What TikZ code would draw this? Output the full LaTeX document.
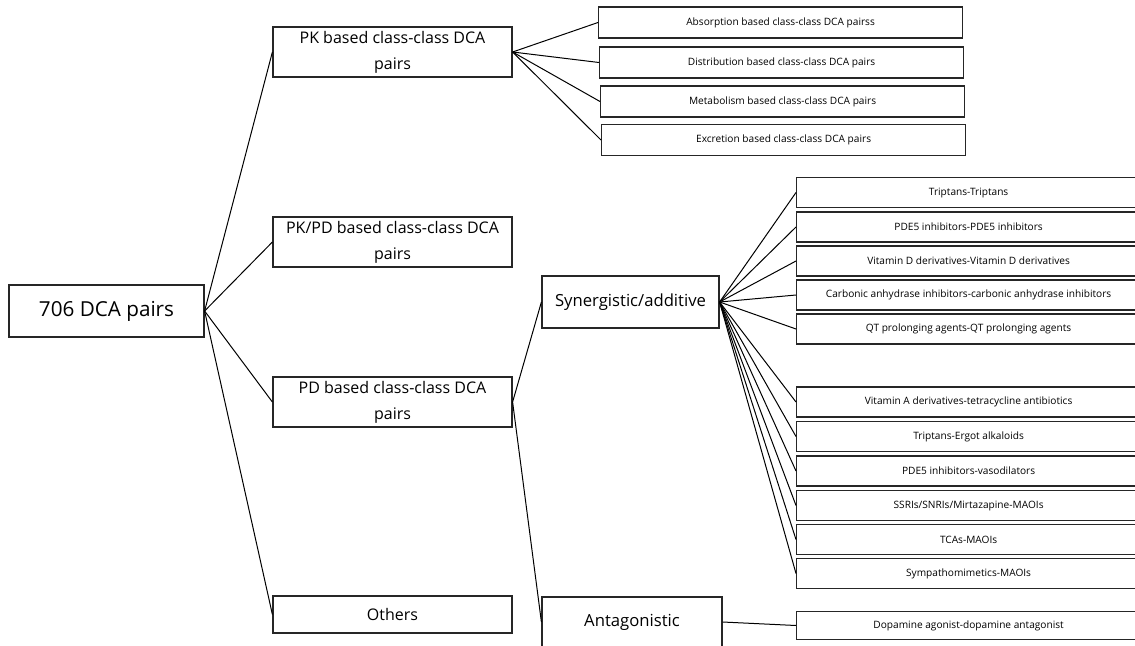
\documentclass[tikz,border=0pt]{standalone}
\usepackage{fontspec}
\setmainfont{Open Sans}
\usepackage{tikz}
\usetikzlibrary{positioning}
\tikzset{
  rootbox/.style={
    draw=black!85,
    line width=0.9pt,
    align=center,
    font=\fontsize{15.5}{18}\selectfont,
    minimum width=146.25pt,
    minimum height=39pt,
    inner sep=2pt
  },
  catbox/.style={
    draw=black!85,
    line width=0.9pt,
    align=center,
    font=\fontsize{12}{19.5}\selectfont,
    minimum width=179.25pt,
    minimum height=37.5pt,
    inner sep=2pt
  },
  effbox/.style={
    draw=black!85,
    line width=0.9pt,
    align=center,
    font=\fontsize{12.5}{15}\selectfont,
    minimum width=132.75pt,
    minimum height=39pt,
    inner sep=2pt
  },
  subbox/.style={
    draw=black!85,
    line width=0.9pt,
    anchor=west,
    font=\fontsize{7.6}{9}\selectfont,
    minimum width=273pt,
    minimum height=23.25pt,
    inner sep=2pt
  },
  pairbox/.style={
    draw=black!85,
    line width=0.9pt,
    anchor=west,
    font=\fontsize{7.6}{9}\selectfont,
    minimum width=258pt,
    minimum height=22.5pt,
    inner sep=2pt
  },
  line/.style={draw=black, line width=0.75pt}
}

\begin{document}
\begin{tikzpicture}[x=0.75pt, y=-0.75pt]
\clip (0,0) rectangle (1135,646);

\node[rootbox] (root) at (106.5,311) {706 DCA pairs};

\node[catbox] (pk) at (392.5,52) {PK based class-class DCA\\pairs};
\node[catbox] (pkpd) at (392.5,242) {PK/PD based class-class DCA\\pairs};
\node[catbox] (pd) at (392.5,402) {PD based class-class DCA\\pairs};
\node[catbox, minimum height=27.75pt] (others) at (392.5,614.5) {Others};

\node[subbox] (absorp) at (598,22.5) {Absorption based class-class DCA pairss};
\node[subbox] (distrib) at (599,62.5) {Distribution based class-class DCA pairs};
\node[subbox] (metab) at (600,101.5) {Metabolism based class-class DCA pairs};
\node[subbox] (excret) at (601,140) {Excretion based class-class DCA pairs};

\node[effbox] (syn) at (630.5,302) {Synergistic/additive};
\node[effbox, minimum width=135pt, minimum height=37.5pt] (ant) at (632,622) {Antagonistic};

\node[pairbox] (trip) at (796,192.5) {Triptans-Triptans};
\node[pairbox] (pde) at (796,227) {PDE5 inhibitors-PDE5 inhibitors};
\node[pairbox] (vitd) at (796,261) {Vitamin D derivatives-Vitamin D derivatives};
\node[pairbox] (carb) at (796,295) {Carbonic anhydrase inhibitors-carbonic anhydrase inhibitors};
\node[pairbox] (qt) at (796,329) {QT prolonging agents-QT prolonging agents};
\node[pairbox] (vita) at (796,402) {Vitamin A derivatives-tetracycline antibiotics};
\node[pairbox] (ergot) at (796,436.5) {Triptans-Ergot alkaloids};
\node[pairbox] (vaso) at (796,471) {PDE5 inhibitors-vasodilators};
\node[pairbox] (ssri) at (796,505.5) {SSRIs/SNRIs/Mirtazapine-MAOIs};
\node[pairbox] (tca) at (796,539.5) {TCAs-MAOIs};
\node[pairbox] (symp) at (796,573.5) {Sympathomimetics-MAOIs};
\node[pairbox, minimum height=21pt] (dopa) at (796,625.5) {Dopamine agonist-dopamine antagonist};

\draw[line] (root.east) -- (pk.west);
\draw[line] (root.east) -- (pkpd.west);
\draw[line] (root.east) -- (pd.west);
\draw[line] (root.east) -- (others.west);

\draw[line] (pk.east) -- (absorp.west);
\draw[line] (pk.east) -- (distrib.west);
\draw[line] (pk.east) -- (metab.west);
\draw[line] (pk.east) -- (excret.west);

\draw[line] (pd.east) -- (syn.west);
\draw[line] (pd.east) -- (ant.west);

\draw[line] (syn.east) -- (trip.west);
\draw[line] (syn.east) -- (pde.west);
\draw[line] (syn.east) -- (vitd.west);
\draw[line] (syn.east) -- (carb.west);
\draw[line] (syn.east) -- (qt.west);
\draw[line] (syn.east) -- (vita.west);
\draw[line] (syn.east) -- (ergot.west);
\draw[line] (syn.east) -- (vaso.west);
\draw[line] (syn.east) -- (ssri.west);
\draw[line] (syn.east) -- (tca.west);
\draw[line] (syn.east) -- (symp.west);

\draw[line] (ant.east) -- (dopa.west);
\end{tikzpicture}
\end{document}
